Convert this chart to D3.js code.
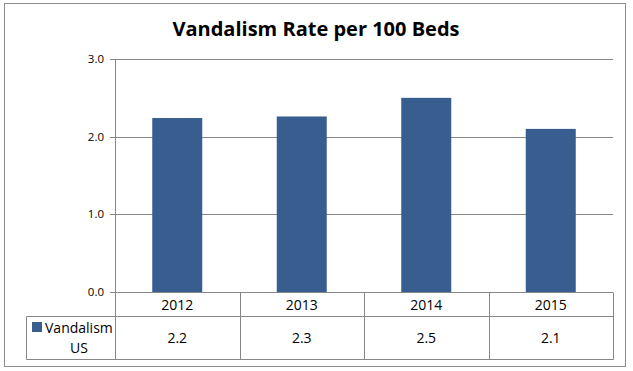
<!DOCTYPE html>
<html>
<head>
<meta charset="utf-8">
<script src="https://cdn.jsdelivr.net/npm/d3@7"></script>
<style>
  body { margin: 0; background: #fff; }
  svg { display: block; }
</style>
</head>
<body>
<div id="chart"></div>
<script>
// chart data
const years = ["2012", "2013", "2014", "2015"];
const vandalism = [2.24, 2.26, 2.5, 2.1];
const tableLabels = ["2.2", "2.3", "2.5", "2.1"];
const yTicks = [0, 1, 2, 3];
const seriesName = ["Vandalism", "US"];
const title = "Vandalism Rate per 100 Beds";

const W = 633, H = 371;
const colors = { bar: "#385E8F", grid: "#868686", border: "#8c8c8c", text: "#000" };
const font = "'Open Sans', 'Noto Sans', sans-serif";

const plot = { left: 115, right: 613, top: 59, bottom: 292 };
const table = { left: 26, row1: 316, row2: 359 };

const svg = d3.select("#chart").append("svg")
    .attr("width", W)
    .attr("height", H);

// outer frame
svg.append("rect")
    .attr("x", 4.5).attr("y", 3.5)
    .attr("width", 621).attr("height", 363)
    .attr("fill", "#fff")
    .attr("stroke", colors.border)
    .attr("stroke-width", 1);

svg.append("text")
    .attr("x", 316).attr("y", 36)
    .attr("text-anchor", "middle")
    .style("font-family", font)
    .style("font-weight", "bold")
    .style("font-size", "20px")
    .text(title);

const x = d3.scaleBand()
    .domain(years)
    .range([plot.left, plot.right])
    .paddingInner(0)
    .paddingOuter(0);

const y = d3.scaleLinear()
    .domain([0, 3])
    .range([plot.bottom, plot.top]);

// gridlines
svg.append("g")
    .selectAll("line")
    .data(yTicks)
    .join("line")
    .attr("x1", plot.left - 5)
    .attr("x2", plot.right)
    .attr("y1", (d) => Math.round(y(d)) + 0.5)
    .attr("y2", (d) => Math.round(y(d)) + 0.5)
    .attr("stroke", colors.grid);

svg.append("g")
    .selectAll("text")
    .data(yTicks)
    .join("text")
    .attr("x", plot.left - 11)
    .attr("y", (d) => y(d) + 4)
    .attr("text-anchor", "end")
    .style("font-family", font)
    .style("font-size", "11.5px")
    .text((d) => d3.format(".1f")(d));

// bars
const barW = 50;
svg.append("g")
    .selectAll("rect")
    .data(vandalism)
    .join("rect")
    .attr("x", (d, i) => x(years[i]) + x.bandwidth() / 2 - barW / 2)
    .attr("y", (d) => y(d))
    .attr("width", barW)
    .attr("height", (d) => y(0) - y(d))
    .attr("fill", colors.bar);

// y axis line
svg.append("line")
    .attr("x1", plot.left + 0.5).attr("x2", plot.left + 0.5)
    .attr("y1", plot.top).attr("y2", table.row2)
    .attr("stroke", colors.grid);

// data table
const tg = svg.append("g");
const lines = [
    [table.left, table.row1, plot.right, table.row1],
    [table.left, table.row2, plot.right, table.row2],
    [table.left, table.row1, table.left, table.row2],
    [plot.right, plot.bottom, plot.right, table.row2],
];
years.forEach((yr, i) => {
    if (i > 0) lines.push([x(yr), plot.bottom, x(yr), table.row2]);
});
tg.selectAll("line")
    .data(lines)
    .join("line")
    .attr("x1", (d) => Math.round(d[0]) + 0.5)
    .attr("y1", (d) => Math.round(d[1]) + 0.5)
    .attr("x2", (d) => Math.round(d[2]) + 0.5)
    .attr("y2", (d) => Math.round(d[3]) + 0.5)
    .attr("stroke", colors.grid);

tg.selectAll("text.year")
    .data(years)
    .join("text")
    .attr("class", "year")
    .attr("x", (d) => x(d) + x.bandwidth() / 2)
    .attr("y", 310)
    .attr("text-anchor", "middle")
    .style("font-family", font)
    .style("font-size", "14px")
    .text((d) => d);

tg.selectAll("text.val")
    .data(tableLabels)
    .join("text")
    .attr("class", "val")
    .attr("x", (d, i) => x(years[i]) + x.bandwidth() / 2)
    .attr("y", 343)
    .attr("text-anchor", "middle")
    .style("font-family", font)
    .style("font-size", "14px")
    .text((d) => d);

// legend key in table
tg.append("rect")
    .attr("x", 32).attr("y", 322)
    .attr("width", 10).attr("height", 10)
    .attr("fill", colors.bar);

tg.append("text")
    .attr("x", 45).attr("y", 333)
    .style("font-family", font)
    .style("font-size", "14px")
    .text(seriesName[0]);

tg.append("text")
    .attr("x", 79).attr("y", 353)
    .attr("text-anchor", "middle")
    .style("font-family", font)
    .style("font-size", "14px")
    .text(seriesName[1]);
</script>
</body>
</html>
